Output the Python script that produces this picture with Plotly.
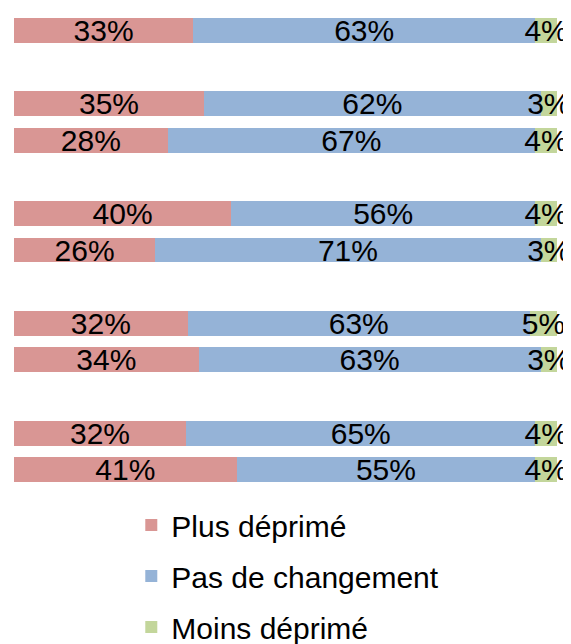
import plotly.graph_objects as go

rows = ["r1", "g1", "r2", "r3", "g2", "r4", "r5", "g3", "r6", "r7", "g4", "r8", "r9"]
plus = [33, None, 35, 28, None, 40, 26, None, 32, 34, None, 32, 41]
pas = [63, None, 62, 67, None, 56, 71, None, 63, 63, None, 65, 55]
moins = [4, None, 3, 4, None, 4, 3, None, 5, 3, None, 4, 4]

series = [
    ("Plus déprimé", plus, "#D99694"),
    ("Pas de changement", pas, "#95B3D7"),
    ("Moins déprimé", moins, "#C3D69B"),
]

fig = go.Figure()
for i, (name, vals, color) in enumerate(series):
    fig.add_trace(go.Bar(
        y=rows, x=vals, name=name, orientation="h",
        marker=dict(color=color, line=dict(width=0)),
        text=[f"{v}%" if v is not None else "" for v in vals],
        textposition="inside", insidetextanchor="middle",
        constraintext="none", textangle=0, cliponaxis=False,
        textfont=dict(family="Liberation Sans, Arial", size=30, color="black"),
        legendgroup=str(i),
    ))

fig.update_layout(
    width=571, height=644,
    barmode="stack", barnorm="percent", bargap=0.32,
    margin=dict(l=6, r=22, t=4, b=164, autoexpand=False),
    plot_bgcolor="white", paper_bgcolor="white",
    xaxis=dict(visible=False, range=[0, 100.01]),
    yaxis=dict(visible=False, categoryorder="array", categoryarray=rows,
               autorange="reversed"),
    showlegend=True,
    legend=dict(orientation="v", x=0.216, xanchor="left", y=-0.023, yanchor="top",
                font=dict(family="Liberation Sans, Arial", size=30, color="black"),
                tracegroupgap=9, traceorder="grouped", itemwidth=30),
)
fig.write_html("out.html")
